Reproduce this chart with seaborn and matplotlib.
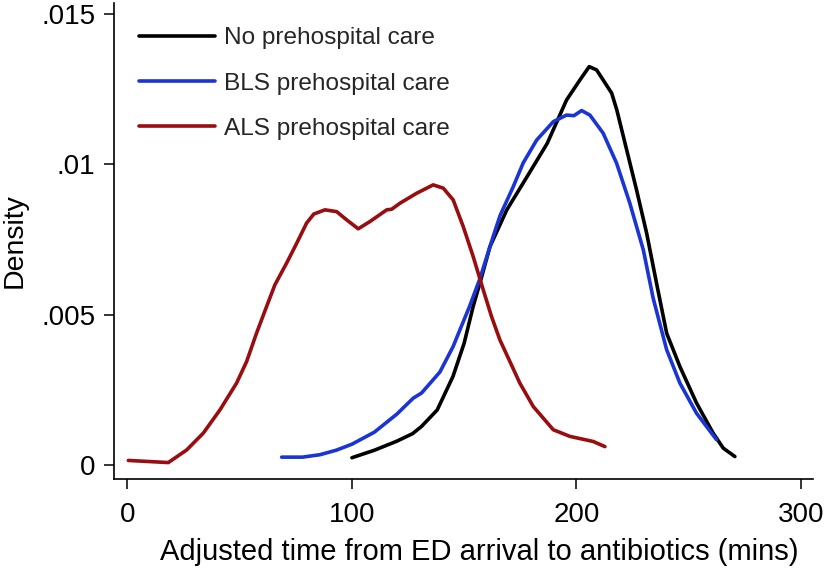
import numpy as np
import pandas as pd
import matplotlib
matplotlib.use("Agg")
import matplotlib.pyplot as plt
import seaborn as sns

# density curves (time in mins, density)
no_x = [100, 110, 120, 127, 131, 138, 145, 150, 154, 157, 161.5, 169, 178, 187,
        195.6, 201.6, 205.7, 209, 215.7, 218, 222.4, 226.8, 231.3, 235.7, 240.2,
        246.1, 253.5, 260.9, 265.4, 270.6]
no_d = [0.00025, 0.0005, 0.0008, 0.00105, 0.00129, 0.00184, 0.00295, 0.00406,
        0.00528, 0.00605, 0.00727, 0.00849, 0.00959, 0.0107, 0.01214, 0.01281,
        0.01325, 0.01314, 0.01237, 0.01181, 0.01048, 0.00915, 0.00771, 0.00605,
        0.00439, 0.00328, 0.00207, 0.00107, 0.00057, 0.00029]

bls_x = [68.7, 78, 85.7, 93, 100, 110, 120, 127.3, 131, 139.2, 145.1, 148.1,
         152.4, 157, 162.9, 166, 171.8, 176.3, 182.3, 189.7, 195.6, 198.9, 202.3,
         206, 211.9, 217.9, 223.8, 229.8, 234.2, 240.2, 246.1, 253.5, 262.4]
bls_d = [0.00027, 0.00027, 0.00035, 0.0005, 0.0007, 0.0011, 0.0017, 0.00223,
         0.0024, 0.0031, 0.00395, 0.0045, 0.00528, 0.0062, 0.0076, 0.0083, 0.00925,
         0.01005, 0.01081, 0.01142, 0.01164, 0.01162, 0.01179, 0.01164, 0.01104,
         0.01004, 0.00871, 0.00716, 0.00555, 0.00384, 0.00273, 0.00173, 0.00085]

als_x = [0.4, 18.2, 26.4, 33.8, 41.2, 48.6, 53.1, 57.5, 62, 65.7, 70.9, 75.4,
         79.8, 83, 88, 93.2, 97.6, 102.8, 108, 115.5, 117.7, 121.4, 128.8, 136.2,
         140.7, 145.1, 149.6, 154, 158.5, 162.2, 165.9, 174.8, 180.8, 189.7, 197.1,
         207.5, 212.7]
als_d = [0.00016, 0.00009, 0.00051, 0.00107, 0.00184, 0.00273, 0.00345, 0.00439,
         0.00528, 0.006, 0.00672, 0.00738, 0.00805, 0.00835, 0.00849, 0.00843,
         0.00816, 0.00786, 0.0081, 0.00849, 0.00851, 0.00871, 0.00904, 0.00932,
         0.00921, 0.00882, 0.00793, 0.00694, 0.00583, 0.00494, 0.00417, 0.00273,
         0.00195, 0.00118, 0.00096, 0.00079, 0.00062]

groups = ["No prehospital care", "BLS prehospital care", "ALS prehospital care"]
colors = ["#000000", "#1a35d4", "#990d10"]

df = pd.concat([
    pd.DataFrame({"time": no_x, "density": no_d, "group": groups[0]}),
    pd.DataFrame({"time": bls_x, "density": bls_d, "group": groups[1]}),
    pd.DataFrame({"time": als_x, "density": als_d, "group": groups[2]}),
], ignore_index=True)

sns.set_style("white")
plt.rcParams["font.family"] = ["Liberation Sans", "DejaVu Sans"]

fig = plt.figure(figsize=(8.26, 5.70), dpi=100)
ax = fig.add_axes([0.138, 0.16, 0.846, 0.835])

sns.lineplot(data=df, x="time", y="density", hue="group", hue_order=groups,
             palette=colors, estimator=None, sort=False, linewidth=2.6, ax=ax)
for line in ax.get_lines():
    line.set_solid_joinstyle("round")
    line.set_solid_capstyle("round")

ax.set_xlim(-6, 305.3)
ax.set_ylim(-0.00045, 0.01537)
ax.set_xticks([0, 100, 200, 300])
ax.set_yticks([0, 0.005, 0.01, 0.015], ["0", ".005", ".01", ".015"])
ax.tick_params(axis="both", direction="out", length=7.5, width=1.1,
               labelsize=20, colors="black", left=True, bottom=True)
ax.tick_params(axis="x", pad=9)
ax.tick_params(axis="y", pad=6)
ax.set_xlabel("Adjusted time from ED arrival to antibiotics (mins)", fontsize=21,
              color="black")
ax.xaxis.set_label_coords(0.522, -0.125)
ax.set_ylabel("Density", fontsize=20.5, color="black", labelpad=10)

for side in ["top", "right"]:
    ax.spines[side].set_visible(False)
for side in ["left", "bottom"]:
    ax.spines[side].set_color("black")
    ax.spines[side].set_linewidth(1.2)

ax.legend(loc="upper left", bbox_to_anchor=(0.004, 0.995), frameon=False,
          fontsize=17.6, handlelength=3.1, handletextpad=0.4, labelspacing=0.95)
for line in ax.get_legend().get_lines():
    line.set_linewidth(2.6)

fig.savefig("out.png", dpi=100)
